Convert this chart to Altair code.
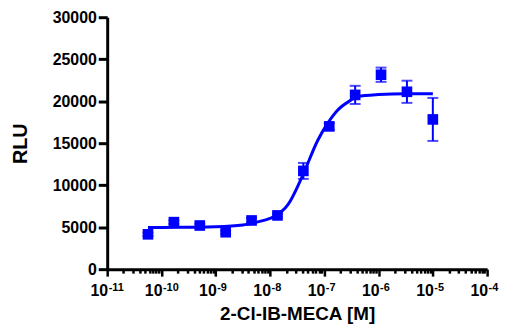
import altair as alt
import pandas as pd

# ---- data ----
conc = [5.645e-11, 1.694e-10, 5.081e-10, 1.524e-9, 4.572e-9, 1.372e-8,
        4.115e-8, 1.235e-7, 3.704e-7, 1.111e-6, 3.333e-6, 1.0e-5]
rlu_mean = [4150, 5600, 5200, 4400, 5800, 6400, 11700, 17000, 20750, 23150, 21120, 17830]
rlu_sem = [200, 200, 200, 200, 300, 200, 950, 400, 1080, 850, 1320, 2560]

curve_conc = [5.65e-11, 1e-10, 3.16e-10, 1e-9, 3.16e-9, 5.62e-9, 1e-8, 1.29e-8, 2.14e-8,
              4.02e-8, 7.59e-8, 1.15e-7, 1.74e-7, 3.02e-7, 4.07e-7, 1e-6, 3.16e-6, 1e-5]
curve_rlu = [4950, 4960, 4990, 5040, 5250, 5600, 6050, 6400, 7680,
             11200, 15350, 17360, 18900, 20080, 20550, 20800, 20900, 20900]

major_ticks = [1e-11, 1e-10, 1e-9, 1e-8, 1e-7, 1e-6, 1e-5, 1e-4]
exp_labels = ["-11", "-10", "-9", "-8", "-7", "-6", "-5", "-4"]
minor_ticks = [m * 10.0 ** d for d in range(-11, -4) for m in range(2, 10)]
y_ticks = [0, 5000, 10000, 15000, 20000, 25000, 30000]

pts = pd.DataFrame({"conc": conc, "rlu": rlu_mean,
                    "lo": [m - s for m, s in zip(rlu_mean, rlu_sem)],
                    "hi": [m + s for m, s in zip(rlu_mean, rlu_sem)]})
curve = pd.DataFrame({"conc": curve_conc, "rlu": curve_rlu})
ticks = pd.DataFrame({"v": major_ticks, "e": exp_labels})

BLUE = "#0000FF"
FONT = "Liberation Sans"

xscale = alt.Scale(type="log", domain=[1e-11, 1e-4], nice=False)
yscale = alt.Scale(domain=[0, 30000], nice=False)

xaxis = alt.Axis(values=major_ticks + minor_ticks, labels=False, grid=False,
                 tickSize={"expr": "abs(log(datum.value)/LN10 - round(log(datum.value)/LN10)) < 0.001 ? 7 : 4"},
                 tickWidth=2.5, tickColor="black", domainWidth=3, domainColor="black",
                 title="2-Cl-IB-MECA [M]", titleFont=FONT, titleFontSize=19, titleFontWeight="bold",
                 titleColor="black", titleBaseline="alphabetic", titleY=51)
yaxis = alt.Axis(values=y_ticks, format="d", grid=False, tickSize=9, tickWidth=3, tickColor="black",
                 domainWidth=3, domainColor="black", labelFont=FONT, labelFontSize=16,
                 labelFontWeight="bold", labelColor="black", labelPadding=2,
                 title="RLU", titleFont=FONT, titleFontSize=20, titleFontWeight="bold",
                 titleColor="black", titleX=-77, titleY=127)

line = alt.Chart(curve).mark_line(color=BLUE, strokeWidth=3, interpolate="monotone").encode(
    x=alt.X("conc:Q", scale=xscale, axis=xaxis),
    y=alt.Y("rlu:Q", scale=yscale, axis=yaxis),
)
bars = alt.Chart(pts).mark_rule(color=BLUE, strokeWidth=2).encode(
    x="conc:Q", y="lo:Q", y2="hi:Q")
cap_lo = alt.Chart(pts).mark_tick(color=BLUE, orient="horizontal", size=11, thickness=2).encode(
    x="conc:Q", y="lo:Q")
cap_hi = alt.Chart(pts).mark_tick(color=BLUE, orient="horizontal", size=11, thickness=2).encode(
    x="conc:Q", y="hi:Q")
points = alt.Chart(pts).mark_square(color=BLUE, size=115, opacity=1, filled=True).encode(
    x="conc:Q", y="rlu:Q")

lab10 = alt.Chart(ticks).mark_text(text="10", align="right", baseline="alphabetic", dx=1, dy=27,
                                   font=FONT, fontSize=16, fontWeight="bold", color="black").encode(
    x="v:Q", y=alt.datum(0))
labexp = alt.Chart(ticks).mark_text(align="left", baseline="alphabetic", dx=1.5, dy=22,
                                    font=FONT, fontSize=11, fontWeight="bold", color="black").encode(
    x="v:Q", y=alt.datum(0), text="e:N")

chart = alt.layer(line, bars, cap_lo, cap_hi, points, lab10, labexp).properties(
    width=383, height=254,
    autosize=alt.AutoSizeParams(type="none"),
    padding={"left": 100, "top": 8, "right": 14, "bottom": 56},
).configure_view(stroke=None)

chart.save("out.html", embed_options={"renderer": "svg", "actions": False})
